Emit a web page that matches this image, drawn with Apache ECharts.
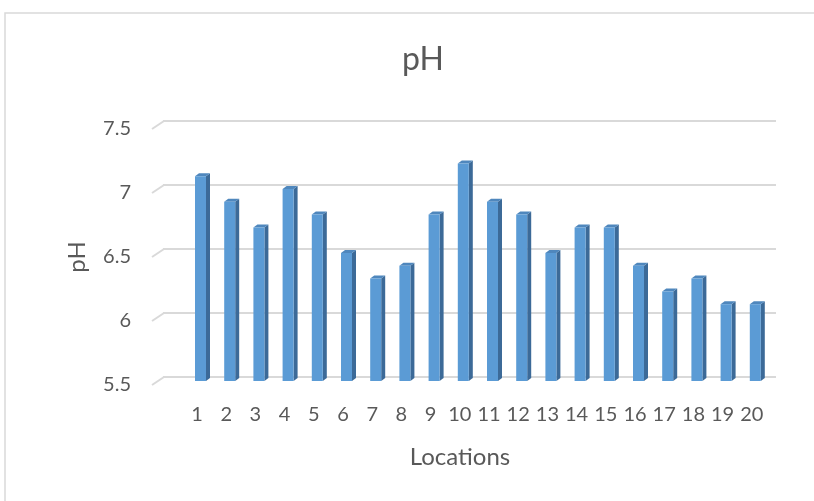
<!DOCTYPE html>
<html>
<head>
<meta charset="utf-8">
<script src="https://cdn.jsdelivr.net/npm/echarts@6/dist/echarts.min.js"></script>
<style>
html,body{margin:0;padding:0;background:#fff;}
#chart{width:814px;height:501px;}
</style>
</head>
<body>
<div id="chart"></div>
<script>
const chartTitle = 'pH';
const xTitle = 'Locations';
const yTitle = 'pH';
const locations = ['1','2','3','4','5','6','7','8','9','10','11','12','13','14','15','16','17','18','19','20'];
const phValues = [7.1, 6.9, 6.7, 7.0, 6.8, 6.5, 6.3, 6.4, 6.8, 7.2, 6.9, 6.8, 6.5, 6.7, 6.7, 6.4, 6.2, 6.3, 6.1, 6.1];
const yTicks = [5.5, 6, 6.5, 7, 7.5];
const yMin = 5.5, yMax = 7.5, yStep = 0.5;

const FONT = 'Lato, "Open Sans", sans-serif';
const TXT = '#595959';
const GRIDC = '#d9d9d9';

const chart = echarts.init(document.getElementById('chart'));

const barData = locations.map((l, i) => [i, phValues[i]]);

chart.setOption({
  animation: false,
  backgroundColor: '#ffffff',
  graphic: [{
    type: 'rect', z: -10, silent: true,
    shape: { x: 5, y: 13, width: 840, height: 520 },
    style: { fill: '#ffffff', stroke: GRIDC, lineWidth: 1.5 }
  }],
  title: {
    text: chartTitle, left: 418, top: 39, textAlign: 'center',
    textStyle: { fontFamily: FONT, fontSize: 32, fontWeight: 'normal', color: TXT }
  },
  grid: [
    { left: 163, right: 38, top: 121, bottom: 124 },   // back wall gridlines
    { left: 182.4, right: 47.6, top: 125, bottom: 120 }, // bars
    { left: 152, right: 38, top: 129, bottom: 116 }    // y labels (front edge)
  ],
  xAxis: [
    { gridIndex: 0, type: 'value', min: 0, max: 1, show: true,
      axisLine: { show: false }, axisTick: { show: false }, axisLabel: { show: false }, splitLine: { show: false },
      name: xTitle, nameLocation: 'middle', nameGap: 68,
      nameTextStyle: { fontFamily: FONT, fontSize: 24, color: TXT, padding: [0, 19, 0, 0] } },
    { gridIndex: 1, type: 'category', data: locations,
      axisLine: { show: false }, axisTick: { show: false },
      axisLabel: { fontFamily: FONT, fontSize: 20, color: TXT, margin: 24, interval: 0 } },
    { gridIndex: 2, type: 'value', min: 0, max: 1, show: false }
  ],
  yAxis: [
    { gridIndex: 0, type: 'value', min: yMin, max: yMax, interval: yStep,
      axisLine: { show: false }, axisTick: { show: false }, axisLabel: { show: false },
      splitLine: { show: true, lineStyle: { color: GRIDC, width: 2 } } },
    { gridIndex: 1, type: 'value', min: yMin, max: yMax, interval: yStep, show: false, splitLine: { show: false } },
    { gridIndex: 2, type: 'value', min: yMin, max: yMax, interval: yStep,
      axisLine: { show: false }, axisTick: { show: false }, splitLine: { show: false },
      axisLabel: { fontFamily: FONT, fontSize: 20, color: TXT, margin: 21 },
      name: yTitle, nameLocation: 'middle', nameGap: 63, nameRotate: 90,
      nameTextStyle: { fontFamily: FONT, fontSize: 24, color: TXT } }
  ],
  series: [
    {
      type: 'custom', xAxisIndex: 0, yAxisIndex: 0, silent: true, z: 1,
      data: yTicks.map(v => [0, v]),
      renderItem: function (params, api) {
        const p = api.coord([0, api.value(1)]);
        return { type: 'line', shape: { x1: p[0] - 11, y1: p[1] + 8, x2: p[0] + 1, y2: p[1] },
          style: { stroke: GRIDC, lineWidth: 2 } };
      }
    },
    {
      type: 'custom', xAxisIndex: 1, yAxisIndex: 1, silent: true, z: 5,
      data: barData,
      renderItem: function (params, api) {
        const c = api.coord([api.value(0), api.value(1)]);
        const b = api.coord([api.value(0), yMin]);
        const x0 = c[0] - 2, w = 11, d = 4, dy = 3;
        const top = c[1], bot = b[1];
        return { type: 'group', children: [
          { type: 'polygon', shape: { points: [[x0 + w, top], [x0 + w + d, top - dy], [x0 + w + d, bot - dy], [x0 + w, bot]] },
            style: { fill: '#3c6a98' } },
          { type: 'polygon', shape: { points: [[x0, top], [x0 + d, top - dy], [x0 + w + d, top - dy], [x0 + w, top]] },
            style: { fill: '#4f87bd' } },
          { type: 'rect', shape: { x: x0, y: top, width: w, height: bot - top },
            style: { fill: '#5b9bd5' } }
        ]};
      }
    }
  ]
});
</script>
</body>
</html>
